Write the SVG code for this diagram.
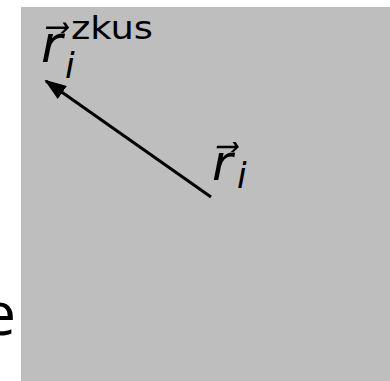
<svg xmlns="http://www.w3.org/2000/svg" width="390" height="381" viewBox="0 0 390 381">
<style>
.m{font-family:"DejaVu Sans",sans-serif;font-style:italic;fill:#000}
.u{font-family:"DejaVu Sans",sans-serif;fill:#000}
</style>
<defs>
<marker id="ah" viewBox="0 0 22 16" refX="20" refY="8" markerWidth="22" markerHeight="16" markerUnits="userSpaceOnUse" orient="auto">
<path d="M0,0 L22,8 L0,16 Z" fill="#000"/>
</marker>
</defs>
<rect id="bg" x="21" y="7" width="369" height="374" fill="#bebebe"/>
<text x="16" y="335" font-family="Open Sans, sans-serif" font-size="60" text-anchor="end">e</text>
<g id="connectors">
<line x1="211" y1="197" x2="46" y2="81" stroke="#000" stroke-width="3" marker-end="url(#ah)"/>
</g>
<g id="label-r">
<text class="m" x="212" y="180" font-size="50">r&#x20D7;</text>
<text class="m" x="237" y="188" font-size="35">i</text>
</g>
<g id="label-rzkus">
<text class="m" x="41" y="62" font-size="52">r&#x20D7;</text>
<text class="m" x="65" y="78" font-size="35">i</text>
<text class="u" x="71" y="39" font-size="32" textLength="82" lengthAdjust="spacingAndGlyphs">zkus</text>
</g>
</svg>
